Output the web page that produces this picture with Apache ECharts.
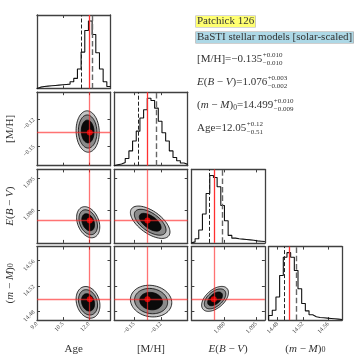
<!DOCTYPE html>
<html>
<head>
<meta charset="utf-8">
<script src="https://cdn.jsdelivr.net/npm/echarts@6/dist/echarts.min.js"></script>
<style>
  html, body { margin: 0; padding: 0; background: #fff; }
  #chart { width: 357px; height: 357px; }
</style>
</head>
<body>
<div id="chart"></div>
<script>
// order of parameters: Age, [M/H], E(B-V), (m-M)0
const paramRanges = [[9.0, 13.25], [-0.172, -0.0903], [1.0645, 1.099], [14.466, 14.582]];
const tickValues = [[9.0, 10.5, 12.0], [-0.15, -0.12], [1.080, 1.095], [14.48, 14.52, 14.56]];
const tickLabels = [["9.0", "10.5", "12.0"], ["−0.15", "−0.12"], ["1.080", "1.095"], ["14.48", "14.52", "14.56"]];
const truthValues = [12.05, -0.135, 1.075, 14.499];
const lowQuantiles = [11.54, -0.145, 1.073, 14.490];
const highQuantiles = [12.17, -0.125, 1.079, 14.509];

// histogram counts (20 bins over each parameter range)
const ageHist = [2, 3, 3.5, 4, 4.5, 5, 5.5, 6, 6.5, 10, 15, 29, 54, 86, 100, 80, 53, 29, 10, 3];
const mhHist = [3, 5, 10, 22, 45, 75, 105, 145, 170, 205, 198, 175, 135, 100, 75, 45, 25, 15, 8, 4];
const ebvHist = [3, 12, 38, 85, 145, 198, 192, 165, 110, 65, 22, 14, 12, 11, 10, 9, 8, 6, 5, 4];
const dmHist = [14, 30, 70, 135, 190, 204, 190, 150, 95, 50, 28, 16, 10, 8, 7, 6, 5, 4, 3, 2];

// 2d contours: [centerX, centerY, spreadX, spreadY, correlation]
const contourAgeMH = [11.93, -0.134, 0.67, 0.023, -0.05];
const contourAgeEBV = [11.96, 1.0742, 0.67, 0.0073, -0.3];
const contourAgeDM = [11.95, 14.494, 0.69, 0.025, -0.2];
const contourMHEBV = [-0.132, 1.0742, 0.022, 0.0076, -0.6];
const contourMHDM = [-0.131, 14.496, 0.023, 0.025, -0.1];
const contourEBVDM = [1.0756, 14.4995, 0.0063, 0.0197, 0.5];
const levelScales = [1.0, 0.8, 0.55];
const levelFills = ["#c4c4c4", "#8a8a8a", "#0a0a0a"];

const SERIF = '"Liberation Serif", "DejaVu Serif", serif';
const axisNames = ["Age", "[M/H]", "{i|E}({i|B} − {i|V})", "({i|m} − {i|M}){sub|0}"];
const nameRich = {
  i: { fontStyle: "italic", fontFamily: SERIF, fontSize: 11, color: "#333" },
  sub: { fontFamily: SERIF, fontSize: 8, color: "#333" }
};

const hists = [ageHist, mhHist, ebvHist, dmHist];
const contours = {
  "1-0": contourAgeMH, "2-0": contourAgeEBV, "3-0": contourAgeDM,
  "2-1": contourMHEBV, "3-1": contourMHDM, "3-2": contourEBVDM
};

const panelLeft = 37, panelTop = 15, panelSize = 73.5, panelStep = 77.2;
const frameColor = "#404040";

function labelFormatter(p) {
  return function (v) {
    const i = tickValues[p].findIndex(t => Math.abs(t - v) < 1e-9);
    return i >= 0 ? tickLabels[p][i] : "";
  };
}

function valueAxis(g, p, position, showLabel, showTicks, withName, isY) {
  const ax = {
    type: "value",
    gridIndex: g,
    position: position,
    min: paramRanges[p][0],
    max: paramRanges[p][1],
    splitLine: { show: false },
    axisLine: { show: true, onZero: false, lineStyle: { color: frameColor, width: 1.3 } },
    axisTick: { show: showTicks, inside: true, length: 3, customValues: tickValues[p],
      lineStyle: { color: frameColor, width: 1 } },
    axisLabel: { show: showLabel, rotate: 45, fontSize: 6, fontFamily: SERIF, color: "#444",
      margin: 3, customValues: tickValues[p], formatter: labelFormatter(p) }
  };
  if (withName) {
    ax.name = axisNames[p];
    ax.nameLocation = "middle";
    ax.nameGap = isY ? 21 : 24;
    if (isY) ax.nameRotate = 90;
    ax.nameTextStyle = { fontFamily: SERIF, fontSize: 11, color: "#333", rich: nameRich };
  }
  return ax;
}

const grids = [], xAxes = [], yAxes = [], series = [];

for (let r = 0; r < 4; r++) {
  for (let c = 0; c <= r; c++) {
    const g = grids.length;
    grids.push({ left: panelLeft + c * panelStep, top: panelTop + r * panelStep,
      width: panelSize, height: panelSize });
    xAxes.push(valueAxis(g, c, "bottom", r === 3, true, r === 3, false));
    xAxes.push(valueAxis(g, c, "top", false, true, false, false));
    const xi = 2 * g;

    if (r === c) {
      const h = hists[c];
      const peak = Math.max(...h);
      const histY = {
        type: "value", gridIndex: g, min: 0, max: peak * 1.09,
        splitLine: { show: false },
        axisLine: { show: true, lineStyle: { color: frameColor, width: 1.3 } },
        axisTick: { show: false }, axisLabel: { show: false }
      };
      yAxes.push(Object.assign({ position: "left" }, histY));
      yAxes.push(Object.assign({ position: "right" }, histY));
      const lo = paramRanges[c][0], hi = paramRanges[c][1];
      const w = (hi - lo) / h.length;
      const pts = [[lo, 0]];
      h.forEach((v, i) => pts.push([lo + i * w, v]));
      pts.push([hi, h[h.length - 1]]);
      series.push({
        type: "line", xAxisIndex: xi, yAxisIndex: xi, data: pts, step: "end",
        symbol: "none", lineStyle: { color: "#111", width: 1.1 }, z: 3,
        markLine: {
          silent: true, precision: 6, symbol: ["none", "none"], label: { show: false },
          data: [
            { xAxis: lowQuantiles[c], lineStyle: { type: "dashed", color: "#222", width: 1 } },
            { xAxis: highQuantiles[c], lineStyle: { type: "dashed", color: "#666", width: 1.4 } },
            { xAxis: truthValues[c], lineStyle: { type: "solid", color: "#ff3030", width: 1.3 } }
          ]
        }
      });
    } else {
      yAxes.push(valueAxis(g, r, "left", c === 0, true, c === 0, true));
      yAxes.push(valueAxis(g, r, "right", false, true, false, true));
      const [cx, cy, sx, sy, rho] = contours[r + "-" + c];
      series.push({
        type: "custom", xAxisIndex: xi, yAxisIndex: xi, z: 2,
        data: levelScales.map((s, i) => [cx, cy, i]),
        renderItem: function (params, api) {
          const k = api.value(2);
          const s = levelScales[k];
          const poly = [];
          for (let j = 0; j < 72; j++) {
            const t = j / 72 * 2 * Math.PI;
            const x = cx + s * sx * Math.cos(t);
            const y = cy + s * sy * (rho * Math.cos(t) + Math.sqrt(1 - rho * rho) * Math.sin(t));
            poly.push(api.coord([x, y]));
          }
          return { type: "polygon", shape: { points: poly },
            style: { fill: levelFills[k], stroke: "#000", lineWidth: 0.8 } };
        }
      });
      series.push({
        type: "scatter", xAxisIndex: xi, yAxisIndex: xi, z: 4,
        data: [[truthValues[c], truthValues[r]]],
        symbolSize: 6, itemStyle: { color: "#ff0000" },
        markLine: {
          silent: true, precision: 6, symbol: ["none", "none"], label: { show: false },
          lineStyle: { type: "solid", color: "rgba(255,40,40,0.65)", width: 1.3 },
          data: [{ xAxis: truthValues[c] }, { yAxis: truthValues[r] }]
        }
      });
    }
  }
}

// text block at top right
const annoLines = [
  { frags: [["[M/H]=−0.135", "n"]], sup: "+0.010", sub: "−0.010", y: 59 },
  { frags: [["E", "i"], ["(", "n"], ["B", "i"], [" − ", "n"], ["V", "i"], [")=1.076", "n"]], sup: "+0.003", sub: "−0.002", y: 82 },
  { frags: [["(", "n"], ["m", "i"], [" − ", "n"], ["M", "i"], [")", "n"], ["0", "s"], ["=14.499", "n"]], sup: "+0.010", sub: "−0.009", y: 105 },
  { frags: [["Age=12.05", "n"]], sup: "+0.12", sub: "−0.51", y: 128 }
];
const annoSize = 11;

const ctx = document.createElement("canvas").getContext("2d");
function measure(text, size, italic) {
  ctx.font = (italic ? "italic " : "") + size + "px " + SERIF;
  return ctx.measureText(text).width;
}

const graphics = [
  { type: "text", x: 196, y: 16, style: { text: "Patchick 126", fontFamily: SERIF, fontSize: annoSize,
    fill: "#333", backgroundColor: "#ffff70", borderColor: "#b0b0b0", borderWidth: 0.6, padding: [0, 1, 0, 1] } },
  { type: "text", x: 196, y: 32, style: { text: "BaSTI stellar models [solar-scaled]", fontFamily: SERIF, fontSize: annoSize,
    fill: "#333", backgroundColor: "#add8e6", borderColor: "#a0a0a0", borderWidth: 0.6, padding: [0, 1, 0, 1] } }
];
annoLines.forEach(line => {
  let x = 197;
  line.frags.forEach(([t, kind]) => {
    const size = kind === "s" ? 7.5 : annoSize;
    const italic = kind === "i";
    graphics.push({ type: "text", x: x, y: line.y + (kind === "s" ? 3 : 0),
      style: { text: t, fontFamily: SERIF, fontSize: size, fontStyle: italic ? "italic" : "normal",
        fill: "#333", verticalAlign: "middle" } });
    x += measure(t, size, italic);
  });
  graphics.push({ type: "text", x: x + 0.5, y: line.y - 3.5,
    style: { text: line.sup, fontFamily: SERIF, fontSize: 7, fill: "#333", verticalAlign: "middle" } });
  graphics.push({ type: "text", x: x + 0.5, y: line.y + 4,
    style: { text: line.sub, fontFamily: SERIF, fontSize: 7, fill: "#333", verticalAlign: "middle" } });
});

const chart = echarts.init(document.getElementById("chart"));
chart.setOption({
  animation: false,
  backgroundColor: "#fff",
  grid: grids,
  xAxis: xAxes,
  yAxis: yAxes,
  series: series,
  graphic: graphics
});
</script>
</body>
</html>
